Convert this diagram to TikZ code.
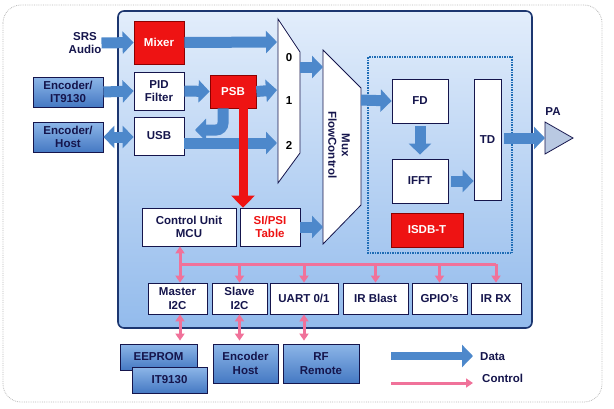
\documentclass[tikz,border=0pt]{standalone}
\usepackage{fontspec}
\setmainfont{Liberation Sans}
\usetikzlibrary{arrows.meta}
\definecolor{navy}{HTML}{15154C}
\definecolor{panelTop}{HTML}{E2EDFB}
\definecolor{panelBot}{HTML}{93BBEC}
\definecolor{panelEdge}{HTML}{1C3670}
\definecolor{dataclr}{HTML}{4D88CB}
\definecolor{ctrlclr}{HTML}{F0729A}
\definecolor{redbox}{HTML}{EE1313}
\definecolor{boxTop}{HTML}{8DB6E8}
\definecolor{boxBot}{HTML}{4579C3}
\definecolor{isdbclr}{HTML}{1E6CB5}
\definecolor{paclr}{HTML}{B9C9E2}

\begin{document}
\begin{tikzpicture}[x=1pt,y=-1pt,
  every node/.style={font=\bfseries\fontsize{11.5}{13.5}\selectfont, text=navy, align=center, inner sep=0pt},
  wbox/.style={draw=navy, fill=white, line width=0.8pt},
  rbox/.style={draw=red!55!black, fill=redbox, text=white, line width=0.8pt},
  bbox/.style={draw=navy, line width=0.8pt, top color=boxTop, bottom color=boxBot},
  iobox/.style={wbox, minimum height=31},
  dataflow/.style={draw=dataclr, line width=11pt, -{Triangle[width=22pt,length=11pt]}},
  psbflow/.style={draw=redbox, line width=9pt, -{Triangle[width=23pt,length=12pt]}},
  ctrl/.style={draw=ctrlclr, line width=3pt},
  >={Triangle[width=9pt,length=7pt]}]

\useasboundingbox (0,0) rectangle (614,408);

% frame, chip and ISDB-T block
\draw[gray!55, densely dotted, line width=0.8pt, rounded corners=18] (3,5) rectangle (602,402);
\draw[panelEdge, line width=1.6pt, top color=panelTop, bottom color=panelBot, rounded corners=6] (118,11) rectangle (532,328);
\draw[isdbclr, densely dotted, line width=1.5pt] (368,57) rectangle (512,253);

% muxes
\draw[navy, fill=white, line width=0.8pt] (278,19) -- (300,52) -- (300,153) -- (278,183) -- cycle;
\draw[navy, fill=white, line width=0.8pt] (323,50) -- (361,88) -- (361,205) -- (323,244) -- cycle;
\node[text=black] (m0) at (289,58) {0};
\node[text=black] (m1) at (289,101) {1};
\node[text=black] (m2) at (289,145) {2};
\node[rotate=-90] (muxfc) at (339,145) {Mux\\FlowControl};
\coordinate (in0) at (277,42);
\coordinate (in1) at (277,90);
\coordinate (in2) at (277,143);
\coordinate (muxout) at (300,67);
\coordinate (fcin) at (323,67);
\coordinate (fcin2) at (323,227);
\coordinate (fcout) at (361,100);

% inputs
\node (srs) at (85,43) {SRS\\Audio};
\node[bbox, minimum width=70, minimum height=30] (encit) at (68,92) {Encoder/\\IT9130};
\node[bbox, minimum width=70, minimum height=30] (enchost) at (68,137) {Encoder/\\Host};

\node[rbox, minimum width=50, minimum height=43] (mixer) at (159,42.5) {Mixer};
\node[wbox, minimum width=50, minimum height=38] (pid) at (159,91) {PID\\Filter};
\node[rbox, minimum width=46, minimum height=33] (psb) at (233,91.5) {PSB};
\node[wbox, minimum width=50, minimum height=38] (usb) at (159,136) {USB};
\coordinate (usbret) at (195,130);

\node[wbox, minimum width=94, minimum height=38] (mcu) at (189,227) {Control Unit\\MCU};
\node[wbox, minimum width=60, minimum height=38, text=redbox] (sipsi) at (270,227) {SI/PSI\\Table};

% ISDB-T
\node[wbox, minimum width=56, minimum height=44] (fd) at (420,101) {FD};
\node[wbox, minimum width=56, minimum height=44] (ifft) at (420,181) {IFFT};
\node[wbox, minimum width=27, minimum height=121] (td) at (487.5,139.5) {TD};
\node[rbox, minimum width=72, minimum height=34] (isdbt) at (427,230) {ISDB-T};
\draw[navy, fill=paclr, line width=0.8pt] (545,122) -- (573,138) -- (545,154) -- cycle;
\coordinate (pa) at (545,138);
\node (palbl) at (553,112) {PA};

% peripherals
\node[iobox, minimum width=59] (mi2c) at (177.5,298.5) {Master\\I2C};
\node[iobox, minimum width=55] (si2c) at (239.5,298.5) {Slave\\I2C};
\node[iobox, minimum width=68] (uart) at (304,298.5) {UART 0/1};
\node[iobox, minimum width=65] (irblast) at (375.5,298.5) {IR Blast};
\node[iobox, minimum width=55] (gpio) at (439.5,298.5) {GPIO's};
\node[iobox, minimum width=50] (irrx) at (496,298.5) {IR RX};

\node[bbox, minimum width=77, minimum height=26] (eeprom) at (158.5,357) {EEPROM};
\node[bbox, minimum width=75, minimum height=26] (it9130) at (169.5,380) {IT9130};
\node[bbox, minimum width=65, minimum height=39] (enchost2) at (245.5,363.5) {Encoder\\Host};
\node[bbox, minimum width=76, minimum height=39] (rfremote) at (321,363.5) {RF\\Remote};

% data paths
\draw[dataflow] (srs.east) -- (mixer.west);
\draw[dataflow] (encit.east) -- (pid.west);
\draw[dataflow, {Triangle[width=22pt,length=11pt]}-{Triangle[width=22pt,length=11pt]}] (enchost.east) -- (usb.west |- enchost);
\draw[dataflow] (mixer.east) -- (in0);
\draw[dataflow] (pid.east) -- (psb.west);
\draw[dataflow] (psb.east) -- (in1);
\draw[dataflow] ([yshift=-7pt]usb.east) -- (in2);
\draw[dataflow, rounded corners=7] ([xshift=-10pt]psb.south) |- (usbret);
\draw[psbflow] ([xshift=10pt]psb.south) -- ([xshift=10pt]psb.south |- sipsi.north);
\draw[dataflow] (muxout) -- (fcin);
\draw[dataflow] (sipsi.east) -- (fcin2);
\draw[dataflow] (fcout) -- (fd.west);
\draw[dataflow, shorten <=3pt, shorten >=4pt] (fd.south) -- (ifft.north);
\draw[dataflow, shorten <=3pt] (ifft.east) -- (td.west |- ifft);
\draw[dataflow, shorten <=3pt] (td.east |- pa) -- (pa);

% control bus
\coordinate (bus) at (180,264);
\draw[ctrl] (bus) -- (bus -| irrx);
\draw[ctrl, <->] (mcu.south -| bus) -- (mi2c.north -| bus);
\foreach \dev in {si2c,uart,irblast,gpio,irrx}
  \draw[ctrl, ->] (bus -| \dev) -- (\dev.north);
\draw[ctrl, <->, shorten >=3pt] (mi2c.south -| bus) -- (eeprom.north -| bus);
\draw[ctrl, <->, shorten >=3pt] (si2c.south) -- (si2c.south |- enchost2.north);
\draw[ctrl, <->, shorten >=3pt] (uart.south) -- (uart.south |- rfremote.north);

% legend
\node[anchor=west] (datalbl) at (480,357) {Data};
\node[anchor=west] (ctrllbl) at (482,378) {Control};
\coordinate (legdata) at (391,356);
\coordinate (legctrl) at (391,383);
\draw[dataflow, line width=8pt] (legdata) -- ([xshift=-7pt]legdata -| datalbl.west);
\draw[ctrl, ->] (legctrl) -- ([xshift=-9pt]legctrl -| ctrllbl.west);

\end{tikzpicture}
\end{document}
